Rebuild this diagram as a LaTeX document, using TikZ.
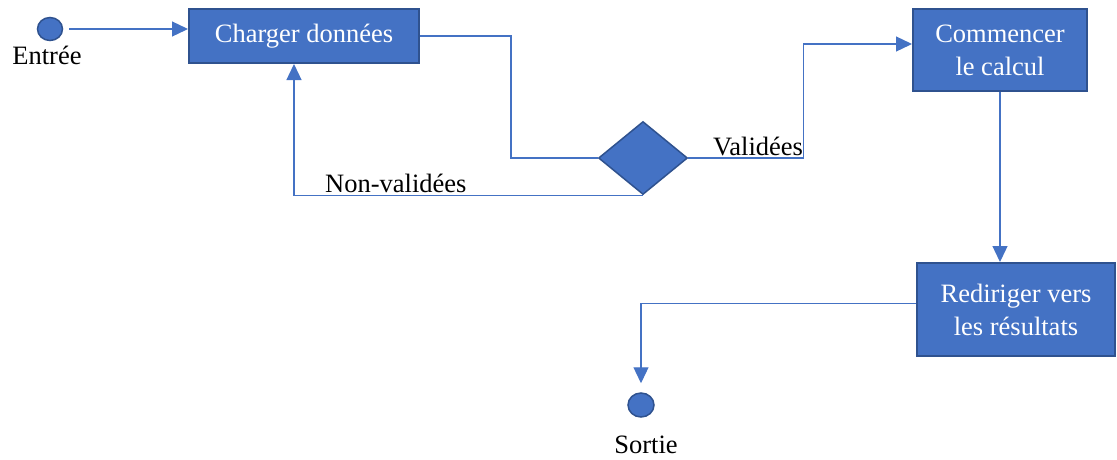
\documentclass[tikz,border=0pt]{standalone}
\usepackage{fontspec}
\setmainfont{Liberation Serif}
\usetikzlibrary{arrows.meta,shapes.geometric}
\definecolor{flowblue}{HTML}{4472C4}
\definecolor{flowedge}{HTML}{2F528F}
\begin{document}
\begin{tikzpicture}[x=1pt,y=-1pt,
  every node/.style={font=\fontsize{26.5}{33}\selectfont},
  stepbox/.style={rectangle,draw=flowedge,line width=2pt,fill=flowblue,
    text=white,align=center,inner sep=0pt},
  terminal/.style={ellipse,draw=flowedge,line width=1.5pt,fill=flowblue,
    minimum width=25pt,minimum height=23pt,inner sep=0pt},
  decision/.style={diamond,draw=flowedge,line width=1.5pt,fill=flowblue,
    minimum width=89pt,minimum height=73pt,inner sep=0pt},
  flow/.style={draw=flowblue,line width=1.3pt},
  arr/.style={flow,-{Triangle[length=16pt,width=15pt]}},
  lbl/.style={text=black,inner sep=0pt}]
\useasboundingbox (0,0) rectangle (1117,459);

% nodes
\node[terminal] (en) at (50,29) {};
\node[lbl,anchor=base] (enl) at (47,64) {Entrée};
\node[stepbox,minimum width=230pt,minimum height=54pt] (cd) at (304,36) {Charger données};
\node[decision] (dia) at (643,158) {};
\node[stepbox,minimum width=174pt,minimum height=82pt] (cm) at (1000,50) {Commencer\\le calcul};
\node[stepbox,minimum width=198pt,minimum height=93pt] (rd) at (1016,309.5) {Rediriger vers\\les résultats};
\node[terminal,minimum width=26pt,minimum height=24pt] (so) at (641,405) {};
\node[lbl,anchor=base] (sol) at (646,453) {Sortie};
\node[lbl,anchor=base west] (nv) at (325,192) {Non-validées};
\node[lbl,anchor=base west] (va) at (713,155) {Validées};

% connectors
\draw[arr,shorten <=6pt] (en.east) -- (en.east -| cd.west);
\draw[flow] (cd.east) -- ++(91,0) |- (dia.west);
\draw[arr] (dia.south) -| ([xshift=-10pt]cd.south);
\draw[arr] (dia.east) -- ++(115,0) |- ([yshift=6pt]cm.west);
\draw[arr] (cm.south) -- (cm.south |- rd.north);
\draw[arr] ([yshift=6pt]rd.west) -| ([yshift=9pt]so.north);
\end{tikzpicture}
\end{document}
